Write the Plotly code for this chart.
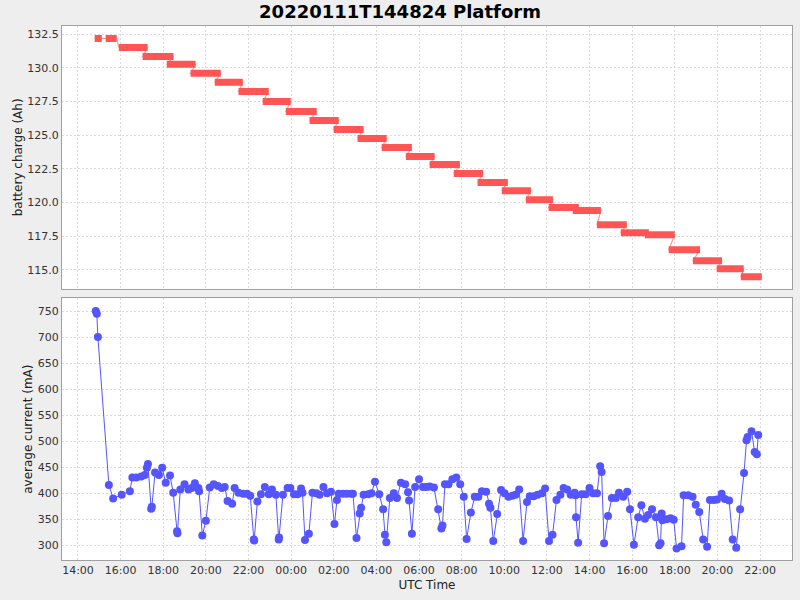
import datetime as dt
import plotly.graph_objs as go
from plotly.subplots import make_subplots

# battery charge steps (start time, end time, Ah)
bar_start = ['14:47', '15:18', '15:55', '17:02', '18:10', '19:17', '20:25', '21:32', '22:40', '23:45',
             '00:52', '02:00', '03:07', '04:15', '05:23', '06:30', '07:38', '08:45', '09:53', '11:01',
             '12:05', '13:13', '14:21', '15:28', '16:36', '17:43', '18:51', '19:58', '21:06']
bar_end = ['15:07', '15:49', '17:16', '18:29', '19:31', '20:42', '21:44', '22:57', '23:59', '01:12',
           '02:14', '03:24', '04:29', '05:40', '06:44', '07:55', '09:00', '10:10', '11:15', '12:17',
           '13:30', '14:32', '15:45', '16:47', '18:00', '19:11', '20:13', '21:14', '22:05']
bar_charge = [132.2, 132.2, 131.53, 130.86, 130.27, 129.6, 128.93, 128.26, 127.51, 126.77,
              126.1, 125.43, 124.76, 124.09, 123.42, 122.82, 122.15, 121.48, 120.88, 120.21,
              119.62, 119.4, 118.35, 117.76, 117.61, 116.49, 115.67, 115.08, 114.48]

# average current samples
cur_time = ['14:50', '14:53', '14:56', '15:27', '15:39', '16:03', '16:26', '16:33', '16:44', '16:58',
            '17:08', '17:14', '17:17', '17:26', '17:28', '17:37', '17:48', '17:57', '18:07', '18:19',
            '18:28', '18:39', '18:40', '18:48', '19:00', '19:11', '19:20', '19:29', '19:39', '19:41',
            '19:50', '20:00', '20:11', '20:22', '20:34', '20:45', '20:53', '21:01', '21:14', '21:21',
            '21:32', '21:45', '21:56', '22:05', '22:15', '22:16', '22:25', '22:35', '22:46', '22:57',
            '23:06', '23:17', '23:25', '23:26', '23:37', '23:50', '23:58', '00:08', '00:18', '00:28',
            '00:32', '00:39', '00:50', '01:00', '01:11', '01:20', '01:31', '01:41', '01:52', '02:02',
            '02:09', '02:14', '02:26', '02:37', '02:49', '02:54', '03:04', '03:13', '03:17', '03:24',
            '03:37', '03:46', '03:56', '04:08', '04:19', '04:24', '04:28', '04:38', '04:49', '04:58',
            '05:09', '05:21', '05:29', '05:32', '05:40', '05:49', '06:00', '06:11', '06:21', '06:30',
            '06:42', '06:54', '07:03', '07:06', '07:13', '07:23', '07:34', '07:45', '07:56', '08:06',
            '08:14', '08:26', '08:37', '08:47', '08:57', '09:09', '09:17', '09:21', '09:29', '09:40',
            '09:51', '10:01', '10:12', '10:23', '10:32', '10:42', '10:53', '11:04', '11:12', '11:23',
            '11:34', '11:46', '11:55', '12:06', '12:16', '12:27', '12:38', '12:47', '12:57', '13:07',
            '13:18', '13:21', '13:22', '13:28', '13:38', '13:49', '14:00', '14:10', '14:21', '14:30',
            '14:34', '14:41', '14:52', '15:03', '15:14', '15:23', '15:35', '15:46', '15:54', '16:05',
            '16:17', '16:26', '16:36', '16:45', '16:56', '17:07', '17:16', '17:20', '17:23', '17:25',
            '17:37', '17:48', '17:57', '18:05', '18:19', '18:25', '18:38', '18:50', '18:59', '19:09',
            '19:20', '19:31', '19:39', '19:50', '19:59', '20:12', '20:21', '20:33', '20:43', '20:53',
            '21:04', '21:15', '21:22', '21:25', '21:36', '21:45', '21:51', '21:55']
cur_ma = [750, 745, 700, 416, 390, 397, 404, 430, 430, 432,
          435, 449, 456, 370, 374, 440, 435, 449, 420, 434,
          401, 327, 323, 407, 417, 407, 410, 419, 410, 404,
          319, 347, 411, 417, 414, 410, 412, 385, 380, 410,
          401, 399, 399, 395, 311, 309, 384, 398, 412, 398,
          407, 397, 311, 315, 397, 410, 410, 398, 398, 409,
          401, 310, 322, 401, 400, 397, 412, 400, 403, 341,
          387, 399, 399, 399, 399, 399, 314, 361, 372, 397,
          398, 400, 422, 398, 369, 320, 306, 391, 400, 391,
          420, 417, 402, 386, 322, 412, 427, 412, 412, 413,
          411, 369, 332, 338, 417, 417, 427, 430, 417, 393,
          312, 363, 393, 393, 404, 403, 380, 372, 308, 360,
          406, 400, 393, 395, 397, 407, 308, 383, 394, 394,
          397, 400, 409, 308, 320, 387, 397, 410, 407, 397,
          401, 396, 354, 305, 398, 398, 410, 400, 400, 452,
          441, 304, 356, 391, 391, 401, 393, 403, 369, 301,
          354, 377, 351, 358, 369, 354, 300, 304, 361, 348,
          350, 352, 349, 294, 298, 396, 396, 393, 378, 364,
          311, 297, 387, 387, 388, 399, 389, 386, 311, 295,
          369, 439, 502, 508, 519, 479, 475, 512]


def to_dt(times, day0=dt.date(2022, 1, 11)):
    '''turn HH:MM strings into datetimes, rolling the day at midnight'''
    out = []
    day = dt.datetime.combine(day0, dt.time())
    prev = None
    for t in times:
        h, m = map(int, t.split(':'))
        cur = day + dt.timedelta(hours=h, minutes=m)
        if prev is not None and cur < prev - dt.timedelta(hours=6):
            day += dt.timedelta(days=1)
            cur += dt.timedelta(days=1)
        out.append(cur)
        prev = cur
    return out


# starts and ends are in order, so one pass over the interleaved list works
both = to_dt([v for pair in zip(bar_start, bar_end) for v in pair])
starts = both[0::2]
ends = both[1::2]
cur_dt = to_dt(cur_time)

red = '#FF5555'
blue = '#5555FF'
grid = '#DADADA'
font = 'DejaVu Sans'

fig = make_subplots(rows=2, cols=1, shared_xaxes=True, vertical_spacing=0.02)

# thin joining line
thin_x, thin_y = [], []
for s, e, v in zip(starts, ends, bar_charge):
    thin_x += [s, e]
    thin_y += [v, v]
fig.append_trace(go.Scatter(x=thin_x, y=thin_y, mode='lines',
                            line=dict(color='rgba(255,85,85,0.6)', width=1.2),
                            hoverinfo='skip'), 1, 1)

# thick charge bars
bx, by = [], []
for s, e, v in zip(starts, ends, bar_charge):
    bx += [s, e, None]
    by += [v, v, None]
fig.append_trace(go.Scatter(x=bx, y=by, mode='lines',
                            line=dict(color=red, width=7)), 1, 1)

fig.append_trace(go.Scatter(x=cur_dt, y=cur_ma, mode='lines+markers',
                            line=dict(color=blue, width=1),
                            marker=dict(color=blue, size=8)), 2, 1)

x_range = [dt.datetime(2022, 1, 11, 13, 15), dt.datetime(2022, 1, 12, 23, 30)]
axis_common = dict(showgrid=True, gridcolor=grid, griddash='2px,2px', gridwidth=1,
                   showline=True, linecolor='#A0A0A0', linewidth=1, mirror=True,
                   zeroline=False, ticks='', tickfont=dict(family=font, size=11, color='#333333'))

fig.update_xaxes(range=x_range, dtick=2 * 3600 * 1000,
                 tick0=dt.datetime(2022, 1, 11, 14, 0), tickformat='%H:%M', **axis_common)
fig.update_xaxes(title=dict(text='UTC Time', font=dict(family=font, size=12, color='#222222'),
                            standoff=4), row=2, col=1)
fig.update_yaxes(**axis_common)
fig.update_yaxes(range=[113.59, 133.12], dtick=2.5, tickformat='.1f',
                 title=dict(text='battery charge (Ah)', font=dict(family=font, size=12, color='#222222'),
                            standoff=2), row=1, col=1)
fig.update_yaxes(range=[271.7, 774.4], dtick=50,
                 title=dict(text='average current (mA)', font=dict(family=font, size=12, color='#222222'),
                            standoff=2), row=2, col=1)

fig['layout']['yaxis'].update(domain=[0.508, 1.0])
fig['layout']['yaxis2'].update(domain=[0.0, 0.49])

fig.update_layout(
    width=800, height=600,
    title=dict(text='<b>20220111T144824 Platform</b>', x=0.5, xref='container', y=0.98,
               yref='container', yanchor='middle',
               font=dict(family=font, size=18, color='#000000')),
    paper_bgcolor='#EEEEEE', plot_bgcolor='#FFFFFF',
    margin=dict(l=62, r=8, t=26, b=40),
    showlegend=False,
)

# page body has a default 8px margin; drop it so the figure sits at the window corner
fig.write_html('out.html', config={'displayModeBar': False},
               post_script="document.body.style.margin='0';document.body.style.background='#EEEEEE';")
